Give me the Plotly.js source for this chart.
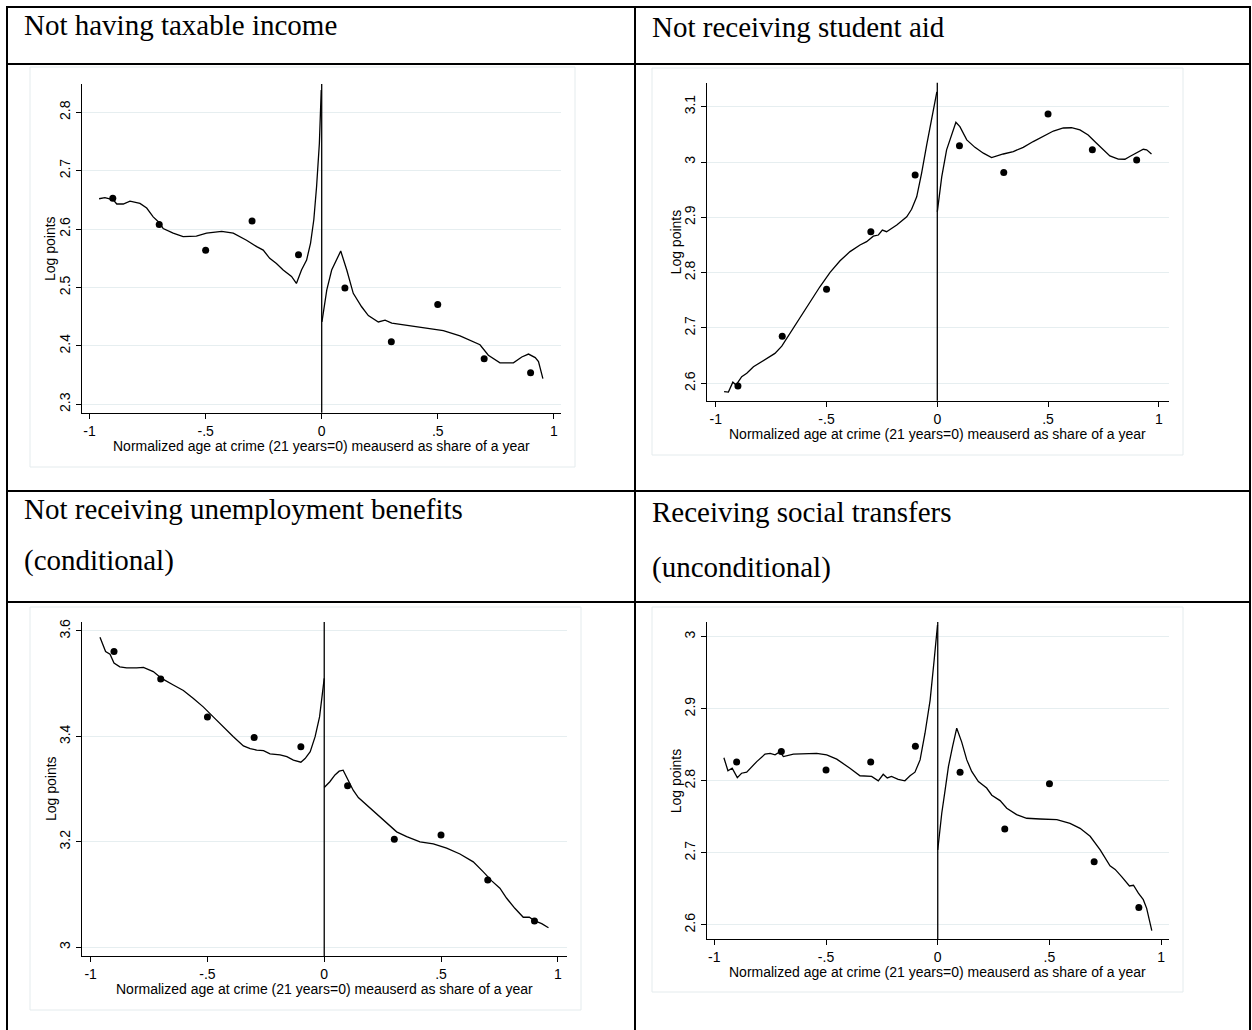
<!DOCTYPE html>
<html>
<head>
<meta charset="utf-8">
<script src="https://cdn.plot.ly/plotly-3.0.1.min.js"></script>
<style>
html,body{margin:0;padding:0;background:#fff;}
#chart{width:1252px;height:1030px;}
</style>
</head>
<body>
<div id="chart"></div>
<script>
// ---------- DATA ----------
var panelTitleLines = [
  ["Not having taxable income"],
  ["Not receiving student aid"],
  ["Not receiving unemployment benefits", "(conditional)"],
  ["Receiving social transfers", "(unconditional)"]
];
var xAxisTitle = "Normalized age at crime (21 years=0) meauserd as share of a year";
var yAxisTitle = "Log points";

var binX = [-0.9, -0.7, -0.5, -0.3, -0.1, 0.1, 0.3, 0.5, 0.7, 0.9];
var xTickVals = [-1, -0.5, 0, 0.5, 1];
var xTickText = ["-1", "-.5", "0", ".5", "1"];

// Panel 1: Not having taxable income
var p1Bins = [2.653, 2.608, 2.564, 2.614, 2.556, 2.499, 2.407, 2.471, 2.378, 2.354];
var p1LeftX = [-0.959,-0.934,-0.898,-0.883,-0.855,-0.826,-0.783,-0.754,-0.726,-0.697,-0.683,-0.640,-0.597,-0.540,-0.496,-0.431,-0.381,-0.324,-0.280,-0.252,-0.224,-0.195,-0.166,-0.130,-0.109,-0.087,-0.065,-0.048,-0.034,-0.022,-0.010,-0.002];
var p1LeftY = [2.652,2.654,2.650,2.643,2.643,2.648,2.644,2.636,2.621,2.610,2.601,2.593,2.587,2.588,2.593,2.596,2.593,2.581,2.570,2.564,2.550,2.541,2.530,2.519,2.507,2.530,2.547,2.576,2.616,2.673,2.747,2.838];
var p1RightX = [0.001,0.022,0.043,0.065,0.082,0.108,0.136,0.172,0.201,0.244,0.273,0.302,0.366,0.452,0.524,0.596,0.654,0.682,0.718,0.768,0.826,0.862,0.891,0.920,0.934,0.953];
var p1RightY = [2.441,2.496,2.530,2.547,2.5625,2.530,2.490,2.467,2.452,2.441,2.444,2.439,2.435,2.430,2.426,2.417,2.407,2.402,2.384,2.371,2.371,2.381,2.386,2.380,2.373,2.344];
var p1YTicks = [2.3, 2.4, 2.5, 2.6, 2.7, 2.8];
var p1YText = ["2.3", "2.4", "2.5", "2.6", "2.7", "2.8"];

// Panel 2: Not receiving student aid
var p2Bins = [2.595, 2.685, 2.770, 2.874, 2.9765, 3.0295, 2.981, 3.087, 3.022, 3.0036];
var p2LeftX = [-0.9625,-0.943,-0.923,-0.908,-0.883,-0.860,-0.830,-0.800,-0.770,-0.733,-0.702,-0.665,-0.620,-0.575,-0.530,-0.484,-0.439,-0.394,-0.349,-0.319,-0.289,-0.266,-0.248,-0.229,-0.183,-0.138,-0.116,-0.093,-0.071,-0.048,-0.025,-0.002];
var p2LeftY = [2.585,2.584,2.602,2.597,2.612,2.618,2.630,2.637,2.645,2.654,2.667,2.690,2.717,2.7445,2.7745,2.8005,2.8215,2.838,2.850,2.856,2.866,2.868,2.877,2.874,2.886,2.901,2.9145,2.937,2.9795,3.0307,3.082,3.127];
var p2RightX = [0.000,0.020,0.042,0.065,0.084,0.102,0.133,0.170,0.208,0.245,0.268,0.298,0.343,0.388,0.433,0.478,0.524,0.569,0.606,0.644,0.681,0.719,0.749,0.779,0.817,0.847,0.869,0.900,0.930,0.945,0.967];
var p2RightY = [2.910,2.973,3.022,3.049,3.072,3.064,3.040,3.0265,3.016,3.008,3.011,3.0145,3.019,3.0265,3.037,3.047,3.056,3.0615,3.062,3.058,3.049,3.034,3.022,3.011,3.0054,3.005,3.010,3.017,3.023,3.022,3.0145];
var p2YTicks = [2.6, 2.7, 2.8, 2.9, 3.0, 3.1];
var p2YText = ["2.6", "2.7", "2.8", "2.9", "3", "3.1"];

// Panel 3: Not receiving unemployment benefits (conditional)
var p3Bins = [3.561, 3.509, 3.437, 3.398, 3.3805, 3.3065, 3.205, 3.213, 3.1275, 3.050];
var p3LeftX = [-0.960,-0.946,-0.936,-0.917,-0.900,-0.875,-0.846,-0.803,-0.774,-0.732,-0.696,-0.646,-0.603,-0.560,-0.518,-0.475,-0.432,-0.389,-0.346,-0.317,-0.289,-0.260,-0.232,-0.189,-0.160,-0.132,-0.100,-0.082,-0.060,-0.039,-0.020,-0.006,0.000];
var p3LeftY = [3.588,3.573,3.561,3.556,3.539,3.532,3.530,3.530,3.531,3.523,3.510,3.4975,3.487,3.472,3.456,3.437,3.418,3.3995,3.382,3.377,3.374,3.373,3.367,3.365,3.3615,3.355,3.351,3.358,3.371,3.3995,3.437,3.482,3.510];
var p3RightX = [0.000,0.024,0.046,0.064,0.081,0.103,0.124,0.146,0.181,0.224,0.267,0.310,0.353,0.410,0.467,0.524,0.581,0.638,0.681,0.717,0.752,0.781,0.816,0.852,0.878,0.902,0.931,0.960];
var p3RightY = [3.303,3.314,3.327,3.334,3.336,3.317,3.298,3.284,3.270,3.254,3.235,3.219,3.210,3.200,3.196,3.188,3.177,3.162,3.143,3.126,3.112,3.093,3.074,3.057,3.057,3.050,3.045,3.037];
var p3YTicks = [3.0, 3.2, 3.4, 3.6];
var p3YText = ["3", "3.2", "3.4", "3.6"];

// Panel 4: Receiving social transfers (unconditional)
var p4Bins = [2.826, 2.8405, 2.815, 2.826, 2.848, 2.812, 2.733, 2.796, 2.6875, 2.624];
var p4LeftX = [-0.957,-0.939,-0.920,-0.897,-0.878,-0.855,-0.810,-0.773,-0.750,-0.728,-0.706,-0.691,-0.646,-0.587,-0.542,-0.497,-0.452,-0.393,-0.348,-0.296,-0.266,-0.244,-0.226,-0.207,-0.177,-0.147,-0.124,-0.102,-0.079,-0.057,-0.034,-0.016,-0.001];
var p4LeftY = [2.832,2.814,2.8175,2.8044,2.8105,2.812,2.8266,2.837,2.838,2.836,2.8405,2.8336,2.837,2.838,2.838,2.836,2.830,2.8175,2.807,2.806,2.800,2.809,2.804,2.806,2.802,2.800,2.807,2.812,2.829,2.866,2.912,2.9677,3.016];
var p4RightX = [0.000,0.018,0.033,0.048,0.066,0.085,0.107,0.130,0.152,0.182,0.219,0.242,0.279,0.309,0.353,0.398,0.458,0.533,0.592,0.637,0.682,0.727,0.771,0.794,0.823,0.858,0.876,0.898,0.920,0.935,0.958];
var p4RightY = [2.704,2.755,2.787,2.820,2.847,2.873,2.854,2.829,2.813,2.799,2.790,2.780,2.7725,2.762,2.753,2.748,2.747,2.746,2.741,2.734,2.723,2.704,2.682,2.677,2.667,2.654,2.655,2.644,2.635,2.623,2.592];
var p4YTicks = [2.6, 2.7, 2.8, 2.9, 3.0];
var p4YText = ["2.6", "2.7", "2.8", "2.9", "3"];

// ---------- LAYOUT HELPERS ----------
var W = 1252, H = 1030;
function px(x){ return x / W; }
function py(y){ return 1 - y / H; }

var panels = [
  {bins:p1Bins, lx:p1LeftX, ly:p1LeftY, rx:p1RightX, ry:p1RightY, yt:p1YTicks, ytt:p1YText,
   box:[81.7, 561, 84, 412.7], xr:[-1.034, 1.031], yr:[2.2856, 2.8485], frame:[30, 575, 67, 467]},
  {bins:p2Bins, lx:p2LeftX, ly:p2LeftY, rx:p2RightX, ry:p2RightY, yt:p2YTicks, ytt:p2YText,
   box:[706.7, 1169, 82.7, 400.7], xr:[-1.041, 1.046], yr:[2.5685, 3.1434], frame:[652, 1183, 68, 455]},
  {bins:p3Bins, lx:p3LeftX, ly:p3LeftY, rx:p3RightX, ry:p3RightY, yt:p3YTicks, ytt:p3YText,
   box:[82, 566.7, 622, 956], xr:[-1.037, 1.038], yr:[2.9835, 3.617], frame:[30, 581, 607, 1010]},
  {bins:p4Bins, lx:p4LeftX, ly:p4LeftY, rx:p4RightX, ry:p4RightY, yt:p4YTicks, ytt:p4YText,
   box:[706.7, 1169, 622, 939.3], xr:[-1.034, 1.035], yr:[2.580, 3.0204], frame:[652, 1183, 607, 992]}
];

var tickFont = {family: "Liberation Sans, Arial, sans-serif", size: 14, color: "#000"};
var titleFont = {family: "Liberation Serif, Times New Roman, serif", size: 29, color: "#000"};

var traces = [];
var layout = {
  width: W, height: H,
  margin: {l:0, r:0, t:0, b:0},
  paper_bgcolor: "#fff", plot_bgcolor: "#fff",
  showlegend: false,
  shapes: [], annotations: []
};

panels.forEach(function(p, i){
  var n = i + 1;
  var xa = "x" + (n === 1 ? "" : n), ya = "y" + (n === 1 ? "" : n);
  var xKey = "xaxis" + (n === 1 ? "" : n), yKey = "yaxis" + (n === 1 ? "" : n);
  traces.push({x: binX, y: p.bins, xaxis: xa, yaxis: ya, type: "scatter", mode: "markers",
    marker: {color: "#000", size: 7}, hoverinfo: "skip"});
  traces.push({x: p.lx, y: p.ly, xaxis: xa, yaxis: ya, type: "scatter", mode: "lines",
    line: {color: "#000", width: 1.3}, hoverinfo: "skip"});
  traces.push({x: p.rx, y: p.ry, xaxis: xa, yaxis: ya, type: "scatter", mode: "lines",
    line: {color: "#000", width: 1.3}, hoverinfo: "skip"});

  layout[xKey] = {
    domain: [px(p.box[0]), px(p.box[1])], anchor: ya, range: p.xr,
    showline: true, linecolor: "#000", linewidth: 1,
    ticks: "outside", ticklen: 5, tickcolor: "#000", tickwidth: 1,
    tickmode: "array", tickvals: xTickVals, ticktext: xTickText,
    showgrid: false, zeroline: false, tickfont: tickFont, fixedrange: true
  };
  layout[yKey] = {
    domain: [py(p.box[3]), py(p.box[2])], anchor: xa, range: p.yr,
    showline: true, linecolor: "#000", linewidth: 1,
    ticks: "outside", ticklen: 5, tickcolor: "#000", tickwidth: 1,
    tickmode: "array", tickvals: p.yt, ticktext: p.ytt, tickangle: -90,
    showgrid: true, gridcolor: "#e6eef0", gridwidth: 1,
    zeroline: false, tickfont: tickFont, fixedrange: true
  };
  // vertical line at x = 0
  layout.shapes.push({type: "line", xref: xa, yref: ya + " domain", x0: 0, x1: 0, y0: 0, y1: 1,
    line: {color: "#000", width: 1.3}});
  // faint graph-region frame
  layout.shapes.push({type: "rect", xref: "paper", yref: "paper",
    x0: px(p.frame[0]), x1: px(p.frame[1]), y0: py(p.frame[3]), y1: py(p.frame[2]),
    line: {color: "#e4ebed", width: 1}, layer: "below"});
  // axis titles
  layout.annotations.push({xref: "paper", yref: "paper",
    x: px((p.box[0] + p.box[1]) / 2), y: py(p.box[3] + 33),
    xanchor: "center", yanchor: "middle", text: xAxisTitle, showarrow: false,
    font: tickFont});
  layout.annotations.push({xref: "paper", yref: "paper",
    x: px(p.box[0] - 31), y: py((p.box[2] + p.box[3]) / 2),
    xanchor: "center", yanchor: "middle", textangle: -90, text: yAxisTitle, showarrow: false,
    font: tickFont});
});

// table lines
var L = 7, R = 1250, M = 635;
var hLines = [7, 64, 491, 602];
hLines.forEach(function(y){
  layout.shapes.push({type: "line", xref: "paper", yref: "paper", x0: px(L - 1), x1: px(R + 1),
    y0: py(y), y1: py(y), line: {color: "#000", width: 2}});
});
[L, M, R].forEach(function(x){
  layout.shapes.push({type: "line", xref: "paper", yref: "paper", x0: px(x), x1: px(x),
    y0: py(6), y1: py(1030), line: {color: "#000", width: 2}});
});

// panel titles (one annotation per line)
var titlePos = [
  [[22, 25]],
  [[650, 27]],
  [[22, 509], [22, 560]],
  [[650, 512], [650, 567]]
];
panelTitleLines.forEach(function(lines, i){
  lines.forEach(function(t, j){
    layout.annotations.push({xref: "paper", yref: "paper", x: px(titlePos[i][j][0]), y: py(titlePos[i][j][1]),
      xanchor: "left", yanchor: "middle", align: "left", text: t, showarrow: false,
      font: titleFont});
  });
});

Plotly.newPlot("chart", traces, layout, {staticPlot: true, displayModeBar: false});
</script>
</body>
</html>
